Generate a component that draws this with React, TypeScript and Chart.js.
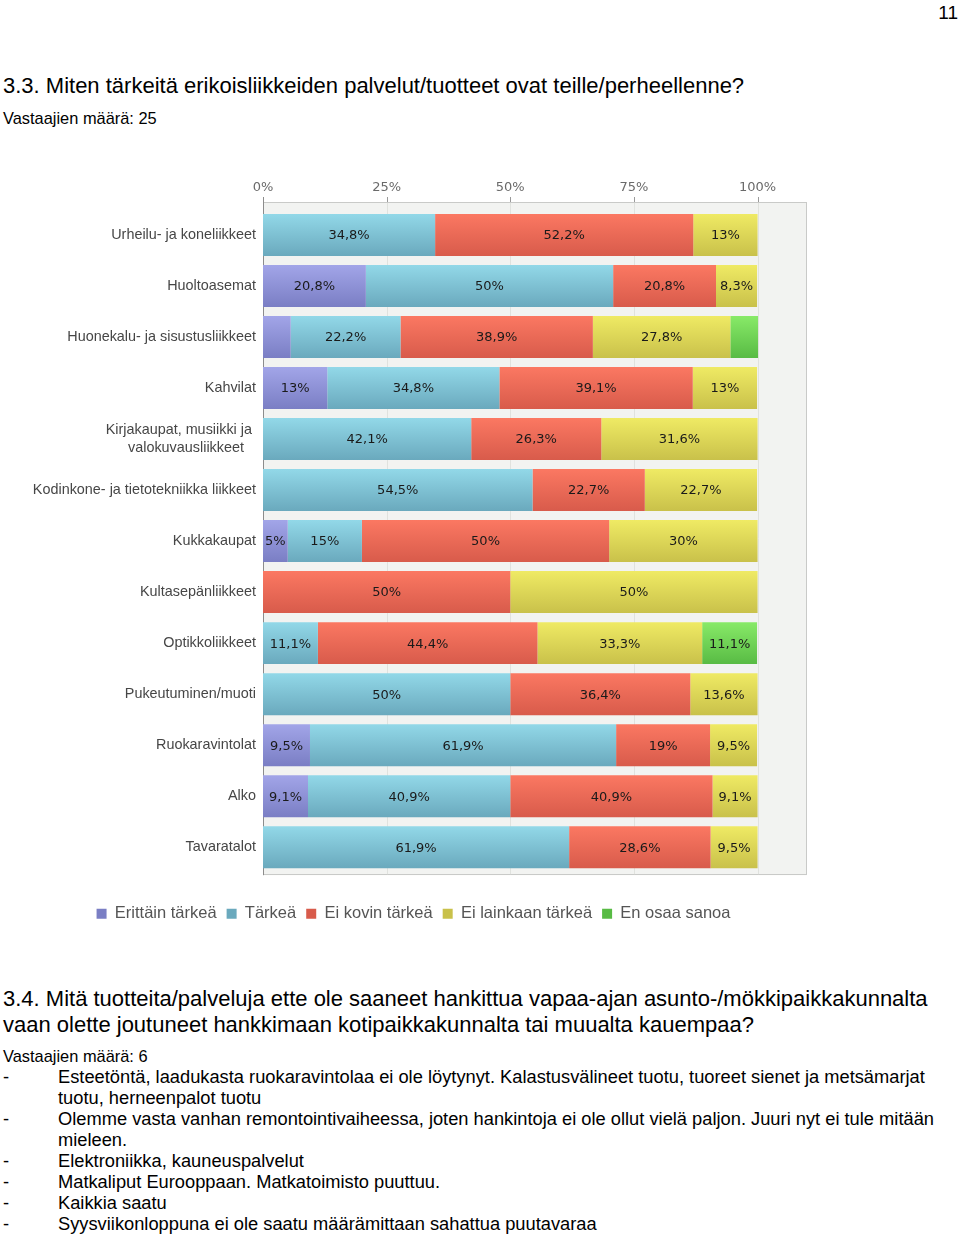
import React, { useEffect, useRef } from 'react';
import { Chart, registerables } from 'chart.js';

Chart.register(...registerables);

// ---------- data ----------
const categories: (string | string[])[] = [
  'Urheilu- ja koneliikkeet',
  'Huoltoasemat',
  'Huonekalu- ja sisustusliikkeet',
  'Kahvilat',
  ['Kirjakaupat, musiikki ja ', 'valokuvausliikkeet   '],
  'Kodinkone- ja tietotekniikka liikkeet',
  'Kukkakaupat',
  'Kultasepänliikkeet',
  'Optikkoliikkeet',
  'Pukeutuminen/muoti',
  'Ruokaravintolat',
  'Alko',
  'Tavaratalot',
];
const seriesNames = ['Erittäin tärkeä', 'Tärkeä', 'Ei kovin tärkeä', 'Ei lainkaan tärkeä', 'En osaa sanoa'];
const erittainTarkea = [0, 20.8, 5.6, 13, 0, 0, 5, 0, 0, 0, 9.5, 9.1, 0];
const tarkea = [34.8, 50, 22.2, 34.8, 42.1, 54.5, 15, 0, 11.1, 50, 61.9, 40.9, 61.9];
const eiKovinTarkea = [52.2, 20.8, 38.9, 39.1, 26.3, 22.7, 50, 50, 44.4, 36.4, 19, 40.9, 28.6];
const eiLainkaanTarkea = [13, 8.3, 27.8, 13, 31.6, 22.7, 30, 50, 33.3, 13.6, 9.5, 9.1, 9.5];
const enOsaaSanoa = [0, 0, 5.6, 0, 0, 0, 0, 0, 11.1, 0, 0, 0, 0];
const xTickValues = [0, 25, 50, 75, 100];

const pageNumber = '11';
const title1 = '3.3. Miten tärkeitä erikoisliikkeiden palvelut/tuotteet ovat teille/perheellenne?';
const respondents1 = 'Vastaajien määrä: 25';
const title2Lines = [
  '3.4. Mitä tuotteita/palveluja ette ole saaneet hankittua vapaa-ajan asunto-/mökkipaikkakunnalta',
  'vaan olette joutuneet hankkimaan kotipaikkakunnalta tai muualta kauempaa?',
];
const respondents2 = 'Vastaajien määrä: 6';
const answerLines: { dash: boolean; text: string }[] = [
  { dash: true, text: 'Esteetöntä, laadukasta ruokaravintolaa ei ole löytynyt. Kalastusvälineet tuotu, tuoreet sienet ja metsämarjat' },
  { dash: false, text: 'tuotu, herneenpalot tuotu' },
  { dash: true, text: 'Olemme vasta vanhan remontointivaiheessa, joten hankintoja ei ole ollut vielä paljon. Juuri nyt ei tule mitään' },
  { dash: false, text: 'mieleen.' },
  { dash: true, text: 'Elektroniikka, kauneuspalvelut' },
  { dash: true, text: 'Matkaliput Eurooppaan. Matkatoimisto puuttuu.' },
  { dash: true, text: 'Kaikkia saatu' },
  { dash: true, text: 'Syysviikonloppuna ei ole saatu määrämittaan sahattua puutavaraa' },
];

// ---------- styles ----------
const seriesColors = [
  { flat: '#8a8ed6', top: '#a2a5e8', bottom: '#7a7ec4' },
  { flat: '#7cc5d8', top: '#92d8e8', bottom: '#6aa9bd' },
  { flat: '#ee6a56', top: '#fb7862', bottom: '#d85b4b' },
  { flat: '#dcd652', top: '#efea64', bottom: '#c9c14a' },
  { flat: '#6cd452', top: '#88ea68', bottom: '#58bb44' },
];
const seriesData = [erittainTarkea, tarkea, eiKovinTarkea, eiLainkaanTarkea, enOsaaSanoa];

const fmt = (v: number) => String(v).replace('.', ',') + '%';

const framePlugin = {
  id: 'frame',
  beforeDatasetsDraw(chart: any) {
    const { ctx, chartArea: a, scales } = chart;
    const xs = scales.x;
    const top = a.top - 7.5;
    const bottom = a.bottom + 2.5;
    ctx.save();
    ctx.fillStyle = '#f2f3f1';
    ctx.fillRect(a.left, top, a.right - a.left, bottom - top);
    ctx.lineWidth = 1;
    ctx.strokeStyle = '#c9cac8';
    ctx.strokeRect(Math.round(a.left) + 0.5, Math.round(top) + 0.5, Math.round(a.right - a.left) - 1, Math.round(bottom - top) - 1);
    xs.ticks.forEach((t: any) => {
      const px = Math.round(xs.getPixelForValue(t.value)) + 0.5;
      if (t.value > 0) {
        ctx.strokeStyle = '#e0e2de';
        ctx.beginPath();
        ctx.moveTo(px, top + 1);
        ctx.lineTo(px, bottom - 1);
        ctx.stroke();
      }
      ctx.strokeStyle = '#9a9a9a';
      ctx.beginPath();
      ctx.moveTo(px, top - 5);
      ctx.lineTo(px, top);
      ctx.stroke();
    });
    const lx = Math.round(a.left) + 0.5;
    ctx.strokeStyle = '#8c8c8c';
    ctx.beginPath();
    ctx.moveTo(lx, top - 5);
    ctx.lineTo(lx, bottom);
    ctx.stroke();
    ctx.restore();
  },
};

const valueLabelPlugin = {
  id: 'valueLabels',
  afterDatasetsDraw(chart: any) {
    const { ctx } = chart;
    ctx.save();
    ctx.font = '13px "DejaVu Sans"';
    ctx.fillStyle = '#1a1a1a';
    ctx.textAlign = 'center';
    ctx.textBaseline = 'middle';
    chart.data.datasets.forEach((ds: any, i: number) => {
      const meta = chart.getDatasetMeta(i);
      meta.data.forEach((bar: any, j: number) => {
        const v = ds.data[j];
        if (!v) return;
        const { x, y, base } = bar.getProps(['x', 'y', 'base'], true);
        const w = Math.abs(x - base);
        const text = fmt(v);
        if (ctx.measureText(text).width + 3 > w) return;
        ctx.fillText(text, (x + base) / 2, y + 1);
      });
    });
    ctx.restore();
  },
};

function TextAt({ x, base, fs, children, right }: { x: number; base: number; fs: number; children: any; right?: boolean }) {
  const style: any = {
    position: 'absolute',
    top: base - 0.8465 * fs,
    fontSize: fs,
    lineHeight: fs + 'px',
    whiteSpace: 'nowrap',
  };
  if (right) style.right = x;
  else style.left = x;
  return <div style={style}>{children}</div>;
}

export default function App() {
  const ref = useRef<HTMLCanvasElement>(null);

  useEffect(() => {
    const datasets = seriesNames.map((name, i) => ({
      label: name,
      data: seriesData[i],
      borderWidth: 0,
      barPercentage: 0.823,
      categoryPercentage: 1,
      backgroundColor: (c: any) => {
        const col = seriesColors[i];
        const chart = c.chart;
        const ys = chart.scales && chart.scales.y;
        if (c.type !== 'data' || !ys || !chart.chartArea) return col.flat;
        const cy = ys.getPixelForValue(c.dataIndex);
        const g = chart.ctx.createLinearGradient(0, cy - 21, 0, cy + 21);
        g.addColorStop(0, col.top);
        g.addColorStop(1, col.bottom);
        return g;
      },
    }));

    const chart = new Chart(ref.current as HTMLCanvasElement, {
      type: 'bar',
      data: { labels: categories as any, datasets },
      options: {
        indexAxis: 'y',
        animation: false,
        responsive: true,
        maintainAspectRatio: false,
        layout: { padding: { left: 0, right: 3, top: 0, bottom: 0 } },
        scales: {
          x: {
            position: 'top',
            stacked: true,
            min: 0,
            max: 110,
            grid: { display: false, drawTicks: false },
            border: { display: false },
            ticks: {
              stepSize: 25,
              padding: 14,
              color: '#6a6a6a',
              font: { family: '"DejaVu Sans"', size: 13 },
              callback: (v: any) => v + '%',
            },
            afterBuildTicks: (scale: any) => {
              scale.ticks = xTickValues.map((v) => ({ value: v }));
            },
            afterFit: (scale: any) => {
              scale.height = 39.5;
            },
          },
          y: {
            stacked: true,
            grid: { display: false, drawTicks: false },
            border: { display: false },
            ticks: {
              padding: 7,
              color: '#464646',
              font: { family: '"Liberation Sans"', size: 14.4, lineHeight: 1.26 },
            },
            afterFit: (scale: any) => {
              scale.width = 243;
            },
          },
        },
        plugins: {
          legend: {
            position: 'bottom',
            title: { display: true, text: '', font: { size: 10 }, padding: { top: 5.4, bottom: 5.4 } },
            labels: {
              boxWidth: 10,
              boxHeight: 10,
              padding: 10,
              color: '#555555',
              font: { family: '"Liberation Sans"', size: 16.5 },
            },
          },
          tooltip: { enabled: false },
        },
      },
      plugins: [framePlugin, valueLabelPlugin],
    } as any);
    return () => chart.destroy();
  }, []);

  return (
    <div
      style={{
        position: 'absolute',
        left: 0,
        top: 0,
        width: 960,
        height: 1238,
        overflow: 'hidden',
        fontFamily: '"Liberation Sans", Arial, sans-serif',
        color: '#000',
        background: '#fff',
      }}
    >
      <TextAt x={2} base={19} fs={19} right>
        {pageNumber}
      </TextAt>
      <TextAt x={3} base={94} fs={22}>
        {title1}
      </TextAt>
      <TextAt x={3} base={124} fs={16.4}>
        {respondents1}
      </TextAt>

      <div style={{ position: 'absolute', left: 20, top: 170, width: 790, height: 762 }}>
        <canvas ref={ref} style={{ display: 'block' }} />
      </div>

      {title2Lines.map((t, i) => (
        <TextAt key={'t2' + i} x={3} base={1007 + i * 26} fs={22}>
          {t}
        </TextAt>
      ))}
      <TextAt x={3} base={1062} fs={16.4}>
        {respondents2}
      </TextAt>
      {answerLines.map((l, i) => (
        <React.Fragment key={'a' + i}>
          {l.dash ? (
            <TextAt x={3} base={1083 + i * 21} fs={18.3}>
              -
            </TextAt>
          ) : null}
          <TextAt x={58} base={1083 + i * 21} fs={18.3}>
            {l.text}
          </TextAt>
        </React.Fragment>
      ))}
    </div>
  );
}
